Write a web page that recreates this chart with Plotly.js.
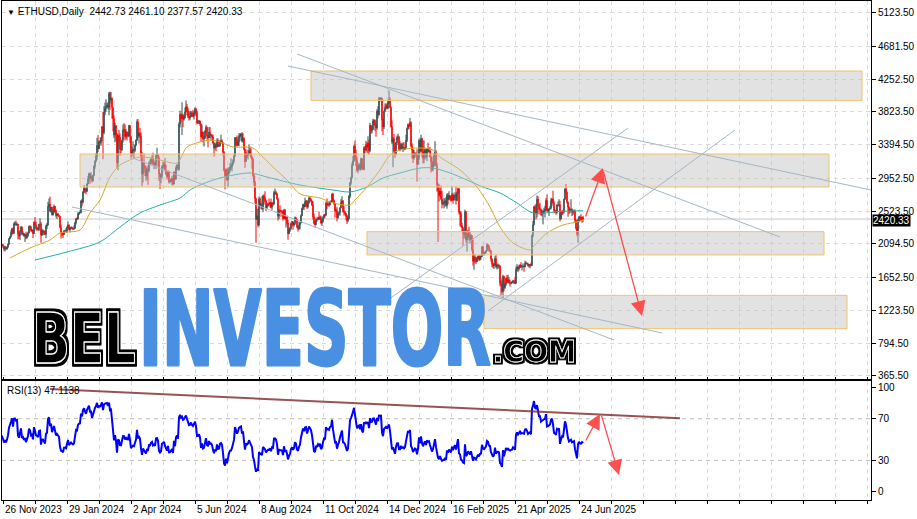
<!DOCTYPE html>
<html><head><meta charset="utf-8">
<script src="https://cdn.plot.ly/plotly-3.0.1.min.js"></script>
<style>html,body{margin:0;padding:0;background:#fff;}#chart{width:917px;height:519px;}</style>
</head><body><div id="chart"></div>
<script>
// ---------------- DATA (ETHUSD daily) ----------------
const firstDate = '2023-11-11';
const prevClose = 2077;
const close = [
// Nov 2023 (11-30)
2050,2045,2053,1980,2058,1960,1962,1963,2012,2022,1934,2063,2062,2081,2084,2063,2027,2048,2028,2052,
// Dec 2023
2087,2166,2193,2243,2293,2233,2358,2359,2344,2352,2225,2202,2260,2316,2220,2229,2197,2218,2176,2201,2239,2326,2312,2266,2273,2230,2379,2345,2298,2292,2281,
// Jan 2024
2352,2356,2209,2268,2268,2240,2221,2331,2344,2585,2617,2524,2576,2472,2511,2587,2530,2467,2489,2470,2455,2312,2242,2236,2218,2267,2268,2257,2317,2343,2283,
// Feb 2024
2304,2309,2297,2289,2298,2372,2425,2421,2486,2501,2506,2660,2641,2777,2826,2804,2786,2880,2944,3014,2967,2971,2922,2993,3112,3178,3243,3384,3340,
// Mar 2024
3433,3420,3487,3629,3553,3818,3870,3892,3912,3881,4066,3980,4004,3881,3736,3523,3644,3520,3157,3516,3492,3336,3329,3454,3591,3588,3500,3561,3510,3509,3645,
// Apr 2024
3503,3281,3311,3331,3320,3390,3454,3694,3506,3544,3505,3244,3009,3156,3101,3085,2985,3066,3056,3154,3148,3202,3220,3141,3156,3131,3256,3264,3218,3012,
// May 2024
2970,2989,3104,3118,3137,3063,3007,2975,3036,2910,2912,2930,2951,2881,3037,2945,3092,3122,3071,3663,3789,3737,3781,3727,3748,3826,3893,3843,3767,3748,3760,
// Jun 2024
3813,3781,3767,3811,3865,3813,3680,3682,3707,3666,3497,3561,3469,3480,3568,3621,3506,3483,3559,3515,3519,3498,3416,3353,3396,3368,3447,3376,3378,3434,
// Jul 2024
3443,3420,3296,3059,2987,3068,2932,3020,3063,3100,3102,3135,3183,3246,3486,3440,3388,3433,3505,3520,3534,3443,3480,3337,3174,3275,3253,3269,3320,3280,3233,
// Aug 2024
3202,2990,2903,2688,2417,2460,2341,2683,2600,2611,2556,2723,2701,2661,2570,2593,2616,2613,2637,2574,2630,2622,2765,2768,2749,2682,2458,2529,2527,2525,2513,
// Sep 2024
2425,2538,2424,2450,2369,2227,2272,2298,2362,2387,2340,2361,2438,2418,2317,2295,2341,2370,2464,2561,2613,2580,2646,2653,2580,2632,2695,2678,2657,2603,
// Oct 2024
2448,2365,2349,2414,2415,2440,2423,2441,2370,2386,2438,2477,2469,2629,2606,2612,2605,2643,2648,2749,2666,2619,2526,2535,2438,2481,2508,2568,2638,2658,2518,
// Nov 2024
2513,2494,2457,2399,2423,2721,2896,2962,3126,3183,3372,3244,3186,3059,3109,3133,3074,3209,3100,3071,3354,3328,3394,3362,3415,3318,3650,3581,3593,3704,
// Dec 2024
3713,3644,3615,3834,3784,4001,3998,4001,3713,3628,3833,3880,3904,3874,3959,3988,3880,3629,3429,3474,3316,3269,3419,3492,3494,3335,3335,3398,3349,3359,3332,
// Jan 2025
3353,3451,3605,3657,3634,3686,3379,3327,3219,3266,3281,3265,3138,3225,3448,3309,3475,3307,3216,3280,3327,3236,3338,3306,3318,3235,3174,3075,3115,3250,3300,
// Feb 2025
3119,2868,2790,2732,2786,2686,2620,2630,2632,2660,2600,2738,2676,2726,2692,2663,2742,2671,2716,2740,2663,2765,2816,2512,2491,2332,2306,2237,
// Mar 2025
2217,2518,2150,2173,2242,2204,2140,2203,2019,1866,1921,1907,1862,1910,1935,1887,1925,1930,2057,1982,1966,1984,2006,2082,2069,2010,2003,1897,1827,1806,1822,
// Apr 2025
1904,1795,1816,1817,1806,1580,1553,1472,1671,1522,1566,1644,1597,1624,1587,1577,1586,1589,1613,1588,1580,1757,1795,1769,1786,1820,1793,1799,1799,1793,
// May 2025
1839,1843,1833,1809,1817,1824,1812,2207,2345,2582,2512,2497,2680,2609,2545,2545,2479,2500,2519,2524,2549,2664,2525,2533,2553,2566,2661,2684,2632,2533,2527,
// Jun 2025 (1-28)
2508,2602,2596,2609,2421,2482,2526,2512,2681,2813,2771,2644,2578,2521,2539,2547,2508,2523,2523,2407,2301,2225,2411,2447,2419,2416,2442.73,2420.33
];
const high = [
2090,2065,2085,2060,2070,2090,1990,1975,2020,2065,2030,2090,2090,2130,2095,2090,2070,2070,2065,2058,
2105,2170,2195,2275,2305,2310,2380,2390,2400,2375,2355,2240,2275,2330,2320,2260,2240,2225,2255,2240,2255,2330,2340,2330,2290,2280,2390,2445,2390,2320,2320,
2355,2430,2385,2295,2280,2270,2265,2345,2370,2645,2690,2715,2580,2580,2545,2610,2590,2545,2500,2495,2475,2460,2350,2255,2240,2275,2280,2300,2320,2390,2350,
2310,2325,2320,2310,2335,2385,2430,2445,2510,2515,2535,2665,2685,2785,2865,2835,2810,2890,2985,3030,3015,3035,2990,3000,3125,3190,3285,3485,3520,
3450,3455,3490,3640,3825,3900,3945,3990,3945,3950,4085,4090,4085,4010,3880,3780,3680,3615,3545,3530,3590,3540,3425,3460,3660,3675,3660,3605,3570,3560,3655,
3650,3505,3370,3440,3345,3400,3465,3725,3730,3560,3615,3555,3300,3170,3280,3130,3120,3095,3125,3175,3200,3225,3255,3290,3190,3170,3265,3355,3275,3245,
3020,3015,3125,3170,3170,3220,3130,3030,3060,3050,2940,2955,2990,2960,3045,3040,3120,3145,3135,3690,3840,3810,3950,3800,3780,3880,3975,3930,3880,3820,3840,
3835,3835,3850,3830,3885,3875,3840,3715,3720,3710,3670,3655,3565,3515,3585,3655,3635,3515,3625,3625,3535,3530,3525,3420,3425,3410,3480,3475,3400,3455,
3525,3465,3425,3310,3085,3080,3085,3095,3100,3150,3215,3150,3205,3275,3495,3495,3515,3490,3545,3545,3545,3560,3545,3490,3340,3295,3330,3280,3400,3370,3350,
3240,3220,3020,2920,2700,2560,2555,2715,2705,2640,2720,2740,2745,2785,2675,2635,2630,2690,2645,2690,2640,2645,2790,2820,2790,2765,2700,2555,2600,2540,2540,
2520,2555,2550,2460,2465,2410,2310,2315,2375,2395,2390,2375,2455,2440,2420,2325,2385,2375,2480,2570,2620,2615,2700,2670,2670,2660,2720,2705,2690,2665,
2655,2495,2400,2440,2425,2450,2520,2465,2465,2415,2460,2485,2490,2650,2690,2640,2640,2660,2665,2755,2765,2675,2630,2560,2580,2500,2520,2575,2680,2720,2670,
2590,2530,2500,2480,2465,2735,2905,2975,3160,3245,3395,3450,3330,3230,3130,3160,3135,3225,3220,3160,3375,3375,3445,3425,3505,3460,3680,3650,3640,3735,
3725,3725,3670,3860,3900,4020,4020,4015,4010,3740,3840,3935,3935,3935,3970,4105,4015,3895,3715,3495,3535,3380,3430,3515,3540,3510,3440,3420,3415,3425,3425,
3365,3525,3620,3675,3665,3745,3700,3415,3335,3325,3295,3290,3335,3245,3475,3455,3525,3485,3450,3450,3355,3335,3345,3420,3350,3365,3250,3240,3175,3285,3440,
3320,3160,2895,2880,2830,2860,2790,2665,2695,2690,2710,2755,2760,2785,2735,2725,2850,2765,2730,2770,2845,2780,2830,2830,2525,2520,2370,2315,
2260,2545,2525,2220,2280,2320,2260,2225,2205,2155,1960,1955,1925,1925,1945,1940,1955,1935,2065,2070,1995,1995,2010,2105,2095,2075,2035,2010,1905,1850,1840,
1935,1955,1825,1840,1825,1815,1645,1620,1690,1670,1580,1655,1690,1690,1660,1625,1605,1600,1625,1615,1655,1785,1830,1800,1820,1825,1855,1815,1840,1815,
1875,1865,1850,1845,1830,1830,1850,2215,2395,2590,2605,2620,2730,2720,2615,2635,2560,2535,2545,2570,2595,2695,2740,2560,2560,2590,2700,2690,2790,2660,2545,
2540,2615,2650,2680,2660,2525,2530,2540,2685,2825,2880,2780,2645,2585,2560,2680,2560,2535,2545,2545,2415,2320,2425,2460,2465,2485,2450,2461.10
];
const low = [
2035,2025,2030,1945,1975,1945,1930,1930,1955,1990,1930,1930,2050,2055,2070,2040,2000,1995,2020,2020,
2045,2085,2155,2180,2210,2225,2230,2340,2330,2335,2155,2160,2145,2245,2205,2210,2190,2120,2155,2165,2190,2230,2290,2255,2250,2170,2225,2335,2270,2270,2270,
2265,2340,2110,2200,2210,2210,2215,2170,2290,2335,2570,2510,2505,2470,2470,2495,2510,2440,2420,2460,2445,2300,2165,2195,2170,2210,2255,2245,2240,2310,2270,
2245,2285,2285,2275,2285,2295,2350,2410,2415,2475,2495,2495,2590,2625,2760,2760,2745,2775,2875,2905,2880,2940,2900,2910,2985,3080,3165,3195,3300,
3340,3405,3380,3440,3205,3530,3780,3830,3885,3855,3780,3850,3935,3735,3570,3480,3425,3445,3090,3060,3420,3250,3285,3315,3425,3555,3450,3470,3450,3490,3500,
3420,3215,3240,3255,3210,3300,3375,3445,3480,3410,3485,3180,2850,2900,3030,2985,2920,2940,2870,3030,3125,3130,3170,3120,3075,3110,3075,3245,3110,2920,
2815,2890,2955,3090,3075,3050,2995,2935,2955,2885,2890,2905,2865,2860,2875,2930,2935,3085,3055,3055,3620,3690,3520,3625,3710,3740,3820,3780,3740,3710,3720,
3755,3760,3755,3725,3780,3780,3660,3670,3665,3640,3440,3480,3425,3370,3475,3545,3460,3360,3480,3480,3445,3485,3405,3240,3330,3310,3355,3365,3365,3370,
3425,3405,3255,3045,2810,2970,2920,2840,3000,3030,3065,3045,3125,3160,3240,3370,3375,3375,3375,3485,3445,3425,3420,3320,3090,3170,3220,3200,3285,3250,3215,
3080,2970,2860,2630,2110,2410,2310,2330,2550,2580,2540,2510,2610,2640,2525,2550,2585,2600,2570,2560,2540,2590,2605,2740,2735,2675,2400,2420,2510,2450,2500,
2400,2420,2410,2310,2345,2150,2240,2250,2280,2325,2280,2320,2345,2400,2300,2255,2275,2285,2365,2460,2540,2540,2575,2590,2555,2560,2625,2655,2640,2590,
2415,2350,2310,2340,2385,2405,2415,2410,2350,2330,2375,2425,2440,2465,2550,2590,2580,2600,2630,2640,2650,2605,2440,2505,2390,2425,2470,2465,2560,2620,2505,
2465,2470,2410,2355,2380,2420,2695,2870,2950,3120,3170,3210,3110,3040,3020,3075,3050,3060,3090,3060,3060,3280,3310,3290,3280,3260,3300,3535,3545,3590,
3650,3575,3500,3590,3740,3780,3975,3960,3570,3520,3600,3820,3855,3860,3860,3930,3870,3620,3400,3100,3300,3220,3255,3390,3450,3315,3310,3325,3340,3300,3320,
3330,3345,3430,3595,3595,3625,3360,3210,3155,3195,3225,3235,2910,3130,3190,3280,3305,3230,3150,3150,3200,3220,3180,3290,3295,3230,3030,3050,3045,3110,3250,
3110,2780,2120,2650,2715,2670,2560,2600,2560,2585,2585,2555,2610,2665,2680,2650,2655,2620,2660,2700,2610,2655,2750,2480,2325,2310,2255,2070,
2160,2175,2110,1995,2140,2180,2100,2140,1995,1810,1755,1840,1830,1860,1900,1870,1880,1890,1925,1960,1940,1965,1975,2000,2040,1990,1990,1860,1790,1780,1765,
1815,1775,1760,1765,1780,1540,1410,1455,1385,1475,1505,1545,1580,1580,1580,1535,1565,1575,1585,1570,1570,1575,1740,1725,1745,1780,1785,1745,1785,1730,
1790,1830,1825,1800,1785,1775,1800,1810,2180,2340,2490,2415,2440,2590,2480,2530,2465,2455,2350,2490,2440,2545,2520,2505,2460,2550,2545,2590,2620,2495,2500,
2475,2490,2585,2590,2390,2415,2470,2480,2495,2670,2755,2620,2450,2485,2495,2530,2460,2470,2495,2380,2280,2195,2110,2380,2395,2400,2375,2377.57
];
const maFastDates = ['2023-12-03','2023-12-23','2024-01-12','2024-01-22','2024-02-11','2024-02-21','2024-03-02','2024-03-12','2024-03-22','2024-04-11','2024-05-01','2024-05-18','2024-05-28','2024-06-10','2024-06-20','2024-06-30','2024-07-13','2024-07-27','2024-08-02','2024-08-12','2024-08-22','2024-09-05','2024-09-18','2024-10-08','2024-10-21','2024-11-07','2024-11-12','2024-11-24','2024-12-07','2024-12-17','2024-12-27','2025-01-16','2025-01-29','2025-02-05','2025-02-25','2025-03-14','2025-03-27','2025-04-06','2025-04-19','2025-05-06','2025-05-09','2025-05-23','2025-06-08','2025-06-22','2025-06-28'];
const maFastValues = [1910,2041,2146,2238,2277,2500,2670,2971,3128,3233,3194,3155,3364,3430,3456,3430,3364,3364,3351,3233,3102,2932,2750,2696,2631,2604,2670,2840,3063,3259,3325,3351,3325,3233,3063,2840,2578,2316,2107,2015,2054,2238,2342,2382,2408];
const maSlowDates = ['2023-12-28','2024-01-29','2024-03-02','2024-03-22','2024-04-11','2024-05-01','2024-05-21','2024-05-31','2024-06-10','2024-06-30','2024-07-30','2024-08-16','2024-09-18','2024-10-21','2024-11-07','2024-11-24','2024-12-10','2024-12-27','2025-01-16','2025-01-29','2025-02-15','2025-03-04','2025-03-20','2025-04-06','2025-04-23','2025-05-09','2025-06-05','2025-06-28'];
const maSlowValues = [1884,1989,2120,2316,2500,2604,2696,2801,2866,2958,3024,2971,2866,2801,2775,2840,2958,3024,3089,3089,3024,2932,2840,2762,2631,2500,2520,2530];
const priceTicks = [365.5,794.5,1223.5,1652.5,2094.5,2523.5,2952.5,3394.5,3823.5,4252.5,4681.5,5123.5];
const rsiTicks = [0,30,70,100];
const xLabelDates = ['2023-11-26','2024-01-29','2024-04-02','2024-06-05','2024-08-08','2024-10-11','2024-12-14','2025-02-16','2025-04-21','2025-06-24'];
const xLabelTexts = ['26 Nov 2023','29 Jan 2024','2 Apr 2024','5 Jun 2024','8 Aug 2024','11 Oct 2024','14 Dec 2024','16 Feb 2025','21 Apr 2025','24 Jun 2025'];
const lastPrice = 2420.33;
const rsiPeriod = 13;

// ---------------- DERIVED ----------------
const DAY = 86400000;
const iso = ms => new Date(ms).toISOString().slice(0,10);
const t0 = Date.parse(firstDate + 'T00:00:00Z');
const dates = close.map((_, i) => iso(t0 + i*DAY));
const open = close.map((_, i) => i === 0 ? prevClose : close[i-1]);
function rsi(cl, n){
  const out = cl.map(() => null);
  let g = 0, l = 0;
  for (let i = 1; i <= n; i++){ const ch = cl[i]-cl[i-1]; if (ch > 0) g += ch; else l -= ch; }
  g /= n; l /= n; out[n] = 100 - 100/(1 + g/l);
  for (let i = n+1; i < cl.length; i++){
    const ch = cl[i]-cl[i-1];
    g = (g*(n-1) + Math.max(ch,0))/n; l = (l*(n-1) + Math.max(-ch,0))/n;
    out[i] = l === 0 ? 100 : 100 - 100/(1 + g/l);
  }
  return out;
}
const rsiValues = rsi(close, rsiPeriod);
const g0 = Date.parse('2023-11-26T00:00:00Z');
const gridVals = []; for (let k = 0; k < 28; k++) gridVals.push(iso(g0 + 32*k*DAY));

// ---------------- TRACES ----------------
const data = [
  {type:'candlestick', x:dates, open:open, high:high, low:low, close:close, xaxis:'x', yaxis:'y',
   increasing:{line:{color:'#2f4f4f', width:1}, fillcolor:'#2f4f4f'},
   decreasing:{line:{color:'#ff0000', width:1}, fillcolor:'#ff0000'}, whiskerwidth:0, hoverinfo:'skip'},
  {type:'scatter', mode:'lines', x:maFastDates, y:maFastValues, line:{color:'#daa520', width:1, shape:'spline', smoothing:0.8}, xaxis:'x', yaxis:'y', hoverinfo:'skip'},
  {type:'scatter', mode:'lines', x:maSlowDates, y:maSlowValues, line:{color:'#20b2aa', width:1, shape:'spline', smoothing:0.8}, xaxis:'x', yaxis:'y', hoverinfo:'skip'},
  {type:'scatter', mode:'lines', x:dates, y:rsiValues, line:{color:'#0000ff', width:2}, xaxis:'x', yaxis:'y2', hoverinfo:'skip'}
];

// ---------------- DRAWINGS ----------------
const rectStyle = {fillcolor:'rgba(190,190,190,0.45)', line:{color:'#f2c26c', width:1}, layer:'above'};
const lineStyle = {color:'#a4b7c5', width:1};
const shapes = [
  {type:'line', xref:'x domain', x0:0, x1:1, yref:'y', y0:lastPrice, y1:lastPrice, line:{color:'#c8c8c8', width:1}, layer:'below'},
  {type:'line', xref:'x domain', x0:0, x1:1, yref:'y2', y0:70, y1:70, line:{color:'#bdbdbd', width:1, dash:'4px,4px'}, layer:'below'},
  {type:'line', xref:'x domain', x0:0, x1:1, yref:'y2', y0:30, y1:30, line:{color:'#bdbdbd', width:1, dash:'4px,4px'}, layer:'below'},
  Object.assign({type:'rect', xref:'x', yref:'y', x0:'2024-09-29', x1:'2026-04-03', y0:3975, y1:4360}, rectStyle),
  Object.assign({type:'rect', xref:'x', yref:'y', x0:'2024-02-11', x1:'2026-03-01', y0:2840, y1:3272}, rectStyle),
  Object.assign({type:'rect', xref:'x', yref:'y', x0:'2024-11-24', x1:'2026-02-24', y0:1950, y1:2255}, rectStyle),
  Object.assign({type:'rect', xref:'x', yref:'y', x0:'2025-03-21', x1:'2026-03-19', y0:984, y1:1421}, rectStyle),
  {type:'line', xref:'x', yref:'y', x0:'2024-09-06', y0:4425, x1:'2026-04-18', y1:2784, line:lineStyle, layer:'above'},
  {type:'line', xref:'x', yref:'y', x0:'2024-09-15', y0:4583, x1:'2026-01-11', y1:2185, line:lineStyle, layer:'above'},
  {type:'line', xref:'x', yref:'y', x0:'2024-12-15', y0:1360, x1:'2025-08-12', y1:3613, line:lineStyle, layer:'above'},
  {type:'line', xref:'x', yref:'y', x0:'2025-03-25', y0:1216, x1:'2025-11-27', y1:3587, line:lineStyle, layer:'above'},
  {type:'line', xref:'x', yref:'y', x0:'2024-02-03', y0:2578, x1:'2025-09-15', y1:928, line:lineStyle, layer:'above'},
  {type:'line', xref:'x', yref:'y', x0:'2024-04-01', y0:3233, x1:'2025-07-29', y1:836, line:lineStyle, layer:'above'},
  {type:'line', xref:'x', yref:'y2', x0:'2024-01-12', y0:98.6, x1:'2025-10-03', y1:70.4, line:{color:'rgba(125,40,40,0.8)', width:2}, layer:'above'}
];

const arrowStyle = {showarrow:true, text:'', arrowhead:2, arrowsize:2.3, arrowwidth:1.3, arrowcolor:'rgba(255,60,60,0.9)', standoff:0, startstandoff:0};
const annotations = [
  {xref:'paper', yref:'paper', x:0, xshift:3, y:1, yshift:-3, xanchor:'left', yanchor:'top', showarrow:false,
   text:'<span style="font-size:8px">\u25BC</span> ETHUSD,Daily\u00a0 2442.73 2461.10 2377.57 2420.33', font:{size:10, color:'#000'}},
  {xref:'paper', yref:'y2 domain', x:0, xshift:3, y:1, yshift:-2, xanchor:'left', yanchor:'top', showarrow:false,
   text:'RSI(13) 47.1138', font:{size:10, color:'#000'}},
  {xref:'paper', x:1, xshift:1, xanchor:'left', yref:'y', y:lastPrice, yshift:-1, yanchor:'middle', showarrow:false,
   text:lastPrice.toFixed(2), bgcolor:'#000', font:{size:10, color:'#fff'}, borderpad:0},
  Object.assign({xref:'x', yref:'y', x:'2025-07-18', y:3089, axref:'x', ayref:'y', ax:'2025-06-30', ay:2434}, arrowStyle),
  Object.assign({xref:'x', yref:'y', x:'2025-08-26', y:1150, axref:'x', ayref:'y', ax:'2025-07-18', ay:3063}, arrowStyle),
  Object.assign({xref:'x', yref:'y2', x:'2025-07-15', y:74.6, axref:'x', ayref:'y2', ax:'2025-06-30', ay:47.7}, arrowStyle),
  Object.assign({xref:'x', yref:'y2', x:'2025-08-03', y:16, axref:'x', ayref:'y2', ax:'2025-07-16', ay:74.6}, arrowStyle)
];
xLabelDates.forEach((d, i) => annotations.push({xref:'x', yref:'paper', x:d, y:0, yshift:-2, xanchor:'left', yanchor:'top',
  showarrow:false, text:xLabelTexts[i], font:{size:10, color:'#000'}}));

// Watermark logo (real text, squeezed horizontally after render)
const logo = [];
function addLogo(text, cx, cy, size, color, w, stroke, sw, filter){
  logo.push({idx:annotations.length, w:w, stroke:stroke, sw:sw, filter:filter});
  annotations.push({xref:'paper', yref:'paper', x:(cx-2)/869, y:(500-cy)/499, xanchor:'center', yanchor:'middle', showarrow:false,
    text:text, font:{family:'DejaVu Sans', size:size, weight:700, color:color}});
}
addLogo('BEL', 84, 338.5, 70, '#000', 104, '#fff', 1.3, 'logoInline');
addLogo('INVESTOR', 314.5, 329, 103, '#4a90e2', 352, '#4a90e2', 3, null);
addLogo('.COM', 534.5, 351, 30, '#000', 84, '#fff', 0.8, 'logoInlineSmall');

const axisFont = {family:'Liberation Sans, Arial, sans-serif', size:10, color:'#000'};
const layout = {
  width:917, height:519, margin:{l:2, r:46, t:1, b:19, pad:0},
  paper_bgcolor:'#ffffff', plot_bgcolor:'#ffffff',
  font:axisFont, showlegend:false, hovermode:false, dragmode:false,
  xaxis:{type:'date', range:['2023-11-25','2026-04-12'], anchor:'y2', tickmode:'array', tickvals:gridVals,
    showticklabels:false, ticks:'outside', ticklen:3, tickcolor:'#000',
    showgrid:true, gridcolor:'#dadada', griddash:'4px,4px', gridwidth:1,
    showline:true, linecolor:'#000', linewidth:1, mirror:'all', zeroline:false,
    rangeslider:{visible:false}, fixedrange:true},
  yaxis:{domain:[0.2425,1], range:[325,5277], side:'right', anchor:'x', tickmode:'array', tickvals:priceTicks,
    ticktext:priceTicks.map(v => v.toFixed(2)), ticks:'outside', ticklen:4, tickcolor:'#000', tickfont:axisFont,
    showgrid:true, gridcolor:'#dadada', griddash:'4px,4px', gridwidth:1,
    showline:true, linecolor:'#000', linewidth:1, mirror:true, zeroline:false, fixedrange:true},
  yaxis2:{domain:[0,0.2385], range:[-8,106.2], side:'right', anchor:'x', tickmode:'array', tickvals:rsiTicks,
    ticks:'outside', ticklen:4, tickcolor:'#000', tickfont:axisFont, showgrid:false,
    showline:true, linecolor:'#000', linewidth:1, mirror:true, zeroline:false, fixedrange:true},
  shapes:shapes, annotations:annotations
};

// SVG filters for the outlined ("inline") logo letters
const NS = 'http://www.w3.org/2000/svg';
const defsSvg = document.createElementNS(NS, 'svg');
defsSvg.setAttribute('width', '0'); defsSvg.setAttribute('height', '0');
defsSvg.style.position = 'absolute'; defsSvg.style.left = '0'; defsSvg.style.top = '0';
defsSvg.innerHTML =
  '<defs>' +
  '<filter id="logoInline" x="-20%" y="-20%" width="140%" height="140%">' +
  '<feMorphology in="SourceAlpha" operator="dilate" radius="3.2" result="d"/>' +
  '<feFlood flood-color="#000"/><feComposite in2="d" operator="in" result="o"/>' +
  '<feMerge><feMergeNode in="o"/><feMergeNode in="SourceGraphic"/></feMerge></filter>' +
  '<filter id="logoInlineSmall" x="-20%" y="-20%" width="140%" height="140%">' +
  '<feMorphology in="SourceAlpha" operator="dilate" radius="1.6" result="d"/>' +
  '<feFlood flood-color="#000"/><feComposite in2="d" operator="in" result="o"/>' +
  '<feMerge><feMergeNode in="o"/><feMergeNode in="SourceGraphic"/></feMerge></filter>' +
  '</defs>';
document.body.appendChild(defsSvg);

const gd = document.getElementById('chart');
Plotly.newPlot(gd, data, layout, {staticPlot:true, displayModeBar:false}).then(() => {
  logo.forEach(s => {
    const g = gd.querySelector('.annotation[data-index="' + s.idx + '"]');
    if (!g) return;
    const inner = g.querySelector('.annotation-text-g > g') || g.querySelector('.annotation-text-g');
    const t = inner.querySelector('text');
    if (!t) return;
    t.setAttribute('stroke', s.stroke);
    t.setAttribute('stroke-width', s.sw);
    t.setAttribute('stroke-linejoin', 'round');
    t.style.paintOrder = s.filter ? 'normal' : 'stroke';
    if (s.filter) t.setAttribute('filter', 'url(#' + s.filter + ')');
    const bb = t.getBBox();
    const sx = s.w / bb.width;
    const c = bb.x + bb.width / 2;
    const tr = inner.getAttribute('transform') || '';
    inner.setAttribute('transform', tr + ' translate(' + c + ',0) scale(' + sx + ',1) translate(' + (-c) + ',0)');
  });
});
</script>
</body></html>
